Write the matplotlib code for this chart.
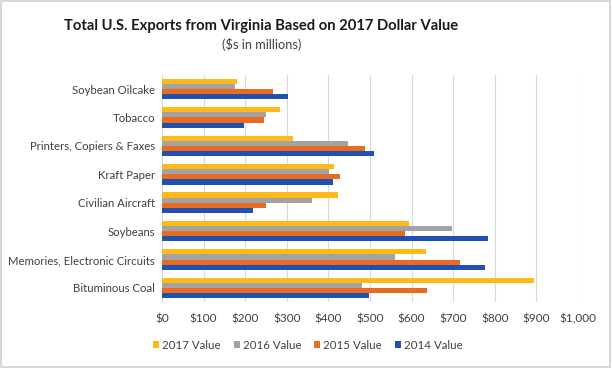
import matplotlib
matplotlib.use("Agg")
import matplotlib.pyplot as plt
import numpy as np
from matplotlib.patches import Rectangle

categories = ["Bituminous Coal", "Memories, Electronic Circuits", "Soybeans",
              "Civilian Aircraft", "Kraft Paper", "Printers, Copiers & Faxes",
              "Tobacco", "Soybean Oilcake"]
v2017 = [894, 634, 594, 422, 414, 314, 283, 180]
v2016 = [482, 559, 697, 360, 402, 448, 251, 175]
v2015 = [638, 716, 584, 249, 427, 487, 245, 268]
v2014 = [498, 777, 783, 219, 411, 510, 196, 302]
series = [("2017 Value", v2017, "#FFBA1A"),
          ("2016 Value", v2016, "#A3A3A3"),
          ("2015 Value", v2015, "#EA6A1F"),
          ("2014 Value", v2014, "#2151B0")]
xticks = [0, 100, 200, 300, 400, 500, 600, 700, 800, 900, 1000]
xticklabels = ["$0", "$100", "$200", "$300", "$400", "$500", "$600", "$700",
               "$800", "$900", "$1,000"]

plt.rcParams['font.family'] = ['Lato', 'DejaVu Sans']

fig = plt.figure(figsize=(6.12, 3.68), dpi=100)
ax = fig.add_axes([0.2647, 0.1788, 0.6797, 0.6179])

y = np.arange(len(categories))
h = 0.18
offsets = [1.5 * h, 0.5 * h, -0.5 * h, -1.5 * h]
for (name, vals, col), off in zip(series, offsets):
    ax.barh(y + off, vals, height=h, color=col, label=name, zorder=3)

ax.set_xlim(0, 1000)
ax.set_ylim(-0.5, len(categories) - 0.5)
ax.set_xticks(xticks)
ax.set_xticklabels(xticklabels, fontsize=8.5, color="#404040")
ax.set_yticks(y)
ax.set_yticklabels(categories, fontsize=8.2, color="#404040")
ax.tick_params(axis='both', length=0, pad=8)
ax.tick_params(axis='y', pad=5)
ax.grid(axis='x', color="#D9D9D9", linewidth=0.8, zorder=0)
for s in ax.spines.values():
    s.set_visible(False)

fig.text(0.426, 0.93, "Total U.S. Exports from Virginia Based on 2017 Dollar Value",
         ha='center', va='center', fontsize=10.6, fontweight='bold', color="#1a1a1a")
fig.text(0.428, 0.88, "($s in millions)", ha='center', va='center',
         fontsize=9.2, color="#404040")

leg = fig.legend(loc='center', bbox_to_anchor=(0.503, 0.062), ncol=4, frameon=False,
                 fontsize=8.3, handlelength=0.55, handleheight=0.55, handletextpad=0.25,
                 columnspacing=1.1)
for t in leg.get_texts():
    t.set_color("#404040")

fig.patches.append(Rectangle((0.002, 0.003), 0.995, 0.993, transform=fig.transFigure,
                             fill=False, edgecolor="#D0D0D0", linewidth=1.2))

fig.savefig("out.png", dpi=100)
